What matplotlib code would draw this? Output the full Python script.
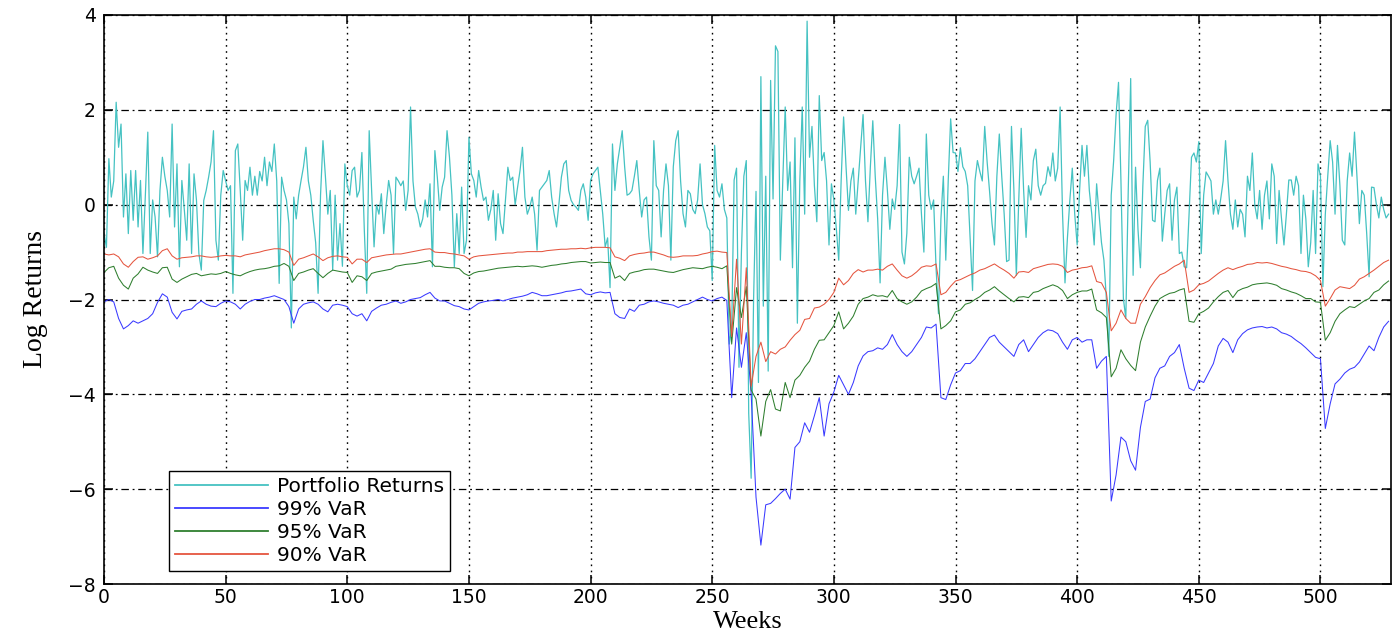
import numpy as np
import matplotlib
matplotlib.use("Agg")
import matplotlib.pyplot as plt

# weekly log returns of the portfolio (in %)
portfolio_returns = [
    -0.6, -0.9, 0.97, 0.16, 0.5, 2.16, 1.21, 1.7, -0.26, 0.65,
    -0.61, 0.72, -0.33, 0.72, -0.47, 0.51, -1.03, 0.2, 1.53, -1.03,
    0.1, -0.26, -1.1, 0.3, 1.0, 0.6, 0.3, -0.26, 1.7, -0.47,
    0.86, -1.31, 0.51, -0.1, -0.75, 0.86, -1.03, 0.65, 0.1, -1.03,
    -1.38, 0.09, 0.3, 0.58, 0.9, 1.56, -0.75, -1.17, 0.2, 0.72,
    0.5, 0.3, 0.4, -1.87, 1.14, 1.28, 0.3, -0.75, 0.51, 0.3,
    0.79, 0.2, 0.6, 0.2, 0.7, 0.5, 1.0, 0.4, 0.9, 0.7,
    1.28, 0.5, -1.66, 0.58, 0.3, 0.1, -0.4, -2.6, 0.16, -0.3,
    0.2, 0.51, 0.8, 1.21, 0.5, 0.2, -0.33, -0.8, -1.87, 0.2,
    1.35, 0.6, -0.2, 0.3, -1.38, 0.2, -1.17, -0.4, -1.3, 0.86,
    0.4, 0.2, 0.72, 0.79, 0.16, 0.3, 1.1, -0.54, -1.87, 1.56,
    0.3, -0.89, 0.0, -0.2, 0.23, -0.61, 0.0, 0.51, 0.2, -1.03,
    0.58, 0.5, 0.4, 0.5, -0.12, 0.3, 2.06, 0.5, -0.05, -0.2,
    -0.47, -0.3, 0.1, -0.26, 0.44, -1.31, 1.14, 0.58, -0.12, 0.37,
    0.58, 1.56, 1.0, 0.2, -1.31, -0.19, -1.03, 0.37, -1.03, -0.75,
    1.42, 0.65, 0.51, 0.16, 0.72, 0.37, 0.09, 0.16, -0.33, -0.1,
    0.3, -0.75, 0.23, -0.4, -0.61, 0.09, 0.79, 0.51, 0.58, 0.0,
    0.37, 0.72, 1.21, 0.16, -0.2, -0.05, 0.16, -0.2, -0.96, 0.3,
    0.37, 0.44, 0.51, 0.72, 0.16, -0.19, -0.47, 0.02, 0.58, 0.86,
    0.93, 0.3, 0.09, 0.0, -0.05, -0.12, 0.3, 0.44, 0.16, -0.33,
    0.51, 0.65, 0.72, 0.79, 0.3, -0.2, -0.89, -0.7, -1.75, 1.28,
    0.3, 0.86, 1.2, 1.56, 0.8, 0.2, 0.23, 0.3, 0.6, 0.93,
    0.3, -0.26, 0.1, 0.16, -0.68, -1.17, 1.35, 0.4, 0.3, -0.68,
    0.3, 0.86, 0.4, -1.17, 0.8, 1.35, 1.56, 0.5, -0.19, -0.47,
    0.3, 0.23, -0.1, -0.19, 0.1, 0.86, 0.0, -0.19, -0.47, -0.55,
    -1.6, 1.25, 0.3, 0.16, 0.44, -0.1, -0.28, -2.94, -2.62, 0.52,
    0.77, -3.43, -1.0, 0.6, 0.93, -4.4, -5.77, -2.0, 0.28, -3.75,
    2.7, -2.14, 0.6, -3.51, 2.62, 0.12, 3.35, 3.23, -1.17, 0.5,
    2.06, 0.3, 0.9, -1.33, 1.41, -2.5, 0.5, 2.06, -0.2, 3.87,
    1.0, 1.65, 0.4, -0.36, 2.3, 0.93, 1.1, 0.5, -0.85, 0.44,
    0.1, -0.5, -1.17, 0.52, 1.85, 0.8, -0.12, 0.5, 0.77, -0.2,
    0.5, 1.2, 1.9, 0.5, -0.36, 0.8, 1.77, 0.6, -0.3, -1.65,
    0.2, 1.0, 0.3, -0.52, 0.12, -0.1, 0.4, 1.69, -1.0, -1.25,
    -0.6, 1.0, 0.6, 0.44, 0.6, 0.77, -0.2, -1.0, 1.49, 0.2,
    -0.1, 0.1, -1.33, -2.3, -0.3, 0.6, -1.17, 0.5, 1.81, 1.1,
    1.09, 0.7, 1.2, 0.8, 0.7, 0.4, -0.69, -1.81, 0.5, 0.93,
    0.7, 0.5, 1.65, 0.9, 0.28, -0.4, -0.85, 0.6, 1.49, 0.6,
    -0.2, -1.2, -1.17, 1.65, 0.3, -1.49, 0.1, 1.61, 0.3, -0.69,
    0.4, 0.1, 0.93, 1.17, 0.4, 0.2, 0.4, 0.45, 0.8, 0.6,
    1.09, 0.5, 0.77, 2.06, -0.2, -1.65, -0.7, 0.1, 0.77, -0.2,
    -0.85, 0.3, 1.25, 0.6, 1.25, 0.3, -0.2, -0.85, 0.44, -0.2,
    -0.8, -1.17, -1.98, -3.2, 0.2, 0.93, 1.9, 2.58, 0.5, -1.98,
    -2.4, 0.3, 2.66, -1.49, 0.79, -0.52, -1.33, 0.4, 1.65, 1.78,
    0.9, -0.33, -0.36, 0.51, 0.77, -0.77, -0.2, 0.3, 0.44, -0.75,
    0.1, 0.37, -1.03, -1.0, -1.31, -1.33, -0.2, 1.0, 1.09, 0.9,
    1.33, -1.03, 0.2, 0.69, 0.6, 0.5, -0.2, 0.1, -0.2, 0.12,
    0.5, 1.35, 0.5, -0.2, -0.52, 0.1, -0.47, -0.1, -0.2, -0.68,
    0.6, 0.3, 1.09, 0.0, -0.3, 0.3, -0.52, 0.2, 0.5, -0.3,
    0.86, 0.6, -0.82, 0.3, -0.3, -0.85, -0.2, 0.52, 0.52, 0.2,
    0.6, 0.4, -1.03, 0.2, -0.3, -1.31, -0.8, 0.3, -1.03, 0.86,
    0.6, -1.73, -0.2, 0.6, 1.35, 0.9, -0.2, 1.25, 0.4, -0.75,
    -0.85, 0.5, 1.09, 0.6, 1.53, 0.6, -0.4, 0.3, 0.2, -0.6,
    -1.52, 0.37, 0.36, 0.0, -0.28, 0.16, -0.1, -0.28, -0.2,
]

# VaR estimates, recorded every second week
var_step = 2
var_99 = [
    -2.05, -2.0, -2.05, -2.4, -2.62, -2.55, -2.45, -2.5, -2.45, -2.4,
    -2.3, -2.06, -1.88, -1.95, -2.27, -2.41, -2.25, -2.22, -2.2, -2.1,
    -2.03, -2.1, -2.14, -2.15, -2.08, -2.03, -2.05, -2.1, -2.2, -2.1,
    -2.04, -2.0, -2.0, -1.97, -1.95, -1.92, -1.96, -2.0, -2.15, -2.5,
    -2.2, -2.1, -2.07, -2.05, -2.1, -2.2, -2.26, -2.12, -2.1, -2.12,
    -2.15, -2.3, -2.35, -2.3, -2.45, -2.25, -2.18, -2.12, -2.1, -2.06,
    -2.03, -2.08, -2.05, -2.0, -1.98, -1.96, -1.9, -1.85, -1.97, -2.03,
    -2.03, -2.08, -2.13, -2.15, -2.2, -2.22, -2.15, -2.08, -2.05, -2.03,
    -2.02, -2.0, -2.03, -2.0, -1.97, -1.95, -1.93, -1.9, -1.85, -1.88,
    -1.92, -1.92, -1.9, -1.88, -1.86, -1.83, -1.82, -1.8, -1.78, -1.88,
    -1.9, -1.86, -1.84, -1.86, -1.85, -2.3, -2.38, -2.4, -2.2, -2.25,
    -2.12, -2.1, -2.05, -2.03, -2.05, -2.08, -2.1, -2.12, -2.17, -2.12,
    -2.1, -2.05, -2.0, -1.95, -2.0, -2.03, -1.98, -1.95, -2.02, -4.07,
    -2.6, -3.43, -2.7, -3.99, -6.17, -7.18, -6.33, -6.3, -6.2, -6.09,
    -6.0, -6.21, -5.12, -5.0, -4.6, -4.8, -4.45, -4.07, -4.88, -4.2,
    -3.95, -3.6, -3.8, -4.0, -3.75, -3.4, -3.19, -3.1, -3.08, -3.02,
    -3.05, -2.95, -2.74, -2.95, -3.1, -3.2, -3.1, -2.95, -2.8, -2.58,
    -2.6, -2.52, -4.07, -4.11, -3.8, -3.55, -3.5, -3.35, -3.35, -3.25,
    -3.1, -2.95, -2.8, -2.75, -2.9, -3.0, -3.1, -3.2, -2.95, -2.85,
    -3.1, -2.95, -2.8, -2.7, -2.64, -2.66, -2.72, -2.9, -3.05, -2.85,
    -2.8, -2.9, -2.85, -2.85, -3.45, -3.3, -3.2, -6.25, -5.7, -4.9,
    -5.0, -5.4, -5.6, -4.7, -4.15, -4.1, -3.65, -3.45, -3.4, -3.2,
    -3.12, -2.95, -3.45, -3.87, -3.92, -3.7, -3.75, -3.55, -3.35, -2.98,
    -2.82, -2.9, -3.12, -2.85, -2.72, -2.64, -2.6, -2.58, -2.57, -2.6,
    -2.58, -2.62, -2.7, -2.73, -2.78, -2.86, -2.93, -3.02, -3.12, -3.22,
    -3.25, -4.72, -4.2, -3.78, -3.68, -3.55, -3.47, -3.43, -3.32, -3.15,
    -2.98, -3.08, -2.8, -2.58, -2.46,
]
var_95 = [
    -1.43, -1.33, -1.3, -1.55, -1.7, -1.78, -1.55, -1.46, -1.32, -1.38,
    -1.42, -1.45, -1.33, -1.32, -1.57, -1.64, -1.57, -1.52, -1.47, -1.45,
    -1.5, -1.48, -1.46, -1.47, -1.45, -1.41, -1.45, -1.48, -1.5, -1.45,
    -1.41, -1.38, -1.36, -1.35, -1.33, -1.3, -1.29, -1.24, -1.3, -1.6,
    -1.45, -1.42, -1.38, -1.35, -1.45, -1.54, -1.45, -1.38, -1.4, -1.42,
    -1.43, -1.64, -1.5, -1.52, -1.6, -1.45, -1.42, -1.4, -1.38, -1.36,
    -1.3, -1.28, -1.26, -1.25, -1.24, -1.22, -1.2, -1.18, -1.3, -1.3,
    -1.32, -1.33, -1.33, -1.35, -1.45, -1.5, -1.44, -1.41, -1.4, -1.38,
    -1.36, -1.34, -1.33, -1.32, -1.31, -1.3, -1.31, -1.3, -1.29, -1.3,
    -1.32, -1.3, -1.28, -1.27, -1.25, -1.24, -1.22, -1.21, -1.2, -1.2,
    -1.23, -1.22, -1.21, -1.22, -1.22, -1.55, -1.5, -1.6, -1.45, -1.42,
    -1.4, -1.37, -1.36, -1.36, -1.38, -1.4, -1.42, -1.43, -1.4, -1.37,
    -1.35, -1.33, -1.34, -1.35, -1.32, -1.3, -1.32, -1.35, -1.29, -2.94,
    -1.75, -2.38, -1.73, -3.91, -4.1, -4.88, -4.15, -3.9, -4.31, -4.35,
    -3.75, -4.07, -3.7, -3.6, -3.43, -3.3, -3.05, -2.86, -2.85, -2.7,
    -2.55, -2.26, -2.62, -2.5, -2.35, -2.1, -1.98, -1.95, -1.9, -1.93,
    -1.92, -1.95, -1.81, -1.98, -2.05, -2.1, -2.05, -1.95, -1.82, -1.77,
    -1.73, -1.66, -2.62, -2.55, -2.45, -2.26, -2.22, -2.1, -2.07, -2.0,
    -1.94, -1.85, -1.8, -1.73, -1.82, -1.9, -1.98, -2.05, -1.95, -1.94,
    -1.96, -1.85, -1.83, -1.77, -1.73, -1.69, -1.73, -1.81, -1.98, -1.9,
    -1.85, -1.82, -1.82, -1.78, -2.22, -2.28, -2.38, -3.63, -3.45, -3.06,
    -3.25, -3.39, -3.5, -2.9, -2.58, -2.35, -2.14, -1.98, -1.92, -1.87,
    -1.85, -1.8, -1.77, -2.46, -2.48, -2.3, -2.25, -2.18, -2.05, -1.94,
    -1.85, -1.81, -1.96, -1.82, -1.77, -1.74, -1.69, -1.67, -1.66, -1.65,
    -1.67, -1.7, -1.77, -1.8, -1.84, -1.87, -1.92, -1.98, -1.98, -2.05,
    -2.06, -2.86, -2.7, -2.46, -2.3, -2.22, -2.15, -2.17, -2.1, -2.03,
    -1.98, -1.85, -1.8, -1.69, -1.61,
]
var_90 = [
    -1.04, -1.06, -1.04, -1.1, -1.25, -1.32, -1.2, -1.11, -1.1, -1.15,
    -1.12, -1.08, -0.97, -0.93, -1.08, -1.15, -1.12, -1.11, -1.1, -1.08,
    -1.08, -1.1, -1.11, -1.1, -1.08, -1.07, -1.08, -1.08, -1.1, -1.06,
    -1.04, -1.02, -1.0, -0.97, -0.95, -0.93, -0.93, -0.95, -1.0, -1.28,
    -1.15, -1.12, -1.08, -1.04, -1.1, -1.18, -1.12, -1.09, -1.08, -1.1,
    -1.11, -1.25, -1.15, -1.15, -1.22, -1.12, -1.1, -1.08, -1.06, -1.05,
    -1.04, -1.04, -1.02, -1.0, -0.98, -0.96, -0.94, -0.93, -1.0, -1.01,
    -1.01, -1.03, -1.04, -1.06, -1.08, -1.15, -1.1, -1.08, -1.07, -1.06,
    -1.05, -1.04, -1.03, -1.02, -1.02, -1.0, -1.0, -0.99, -0.99, -0.99,
    -0.99, -0.97, -0.96, -0.95, -0.94, -0.94, -0.93, -0.93, -0.92, -0.93,
    -0.91, -0.9, -0.9, -0.9, -0.91, -1.1, -1.13, -1.18, -1.08, -1.05,
    -1.03, -1.02, -1.0, -1.0, -1.03, -1.06, -1.1, -1.11, -1.1, -1.08,
    -1.08, -1.08, -1.07, -1.04, -1.02, -0.99, -0.98, -1.0, -1.01, -2.78,
    -1.15, -2.94, -1.33, -3.83, -3.2, -2.9, -3.31, -3.1, -3.15, -3.05,
    -3.0, -2.86, -2.74, -2.65, -2.42, -2.4, -2.18, -2.16, -2.1, -2.0,
    -1.85, -1.55, -1.69, -1.6, -1.45, -1.37, -1.42, -1.38, -1.38, -1.36,
    -1.38, -1.3, -1.25, -1.38, -1.5, -1.55, -1.5, -1.42, -1.32, -1.29,
    -1.3, -1.25, -1.9, -1.85, -1.72, -1.61, -1.58, -1.53, -1.48, -1.44,
    -1.38, -1.35, -1.3, -1.25, -1.32, -1.38, -1.45, -1.55, -1.42, -1.41,
    -1.43, -1.35, -1.32, -1.29, -1.26, -1.25, -1.26, -1.3, -1.43, -1.38,
    -1.36, -1.33, -1.32, -1.29, -1.62, -1.65, -1.85, -2.66, -2.5, -2.22,
    -2.4, -2.5, -2.5, -2.1, -1.94, -1.75, -1.6, -1.48, -1.44, -1.37,
    -1.3, -1.25, -1.17, -1.85, -1.8, -1.69, -1.66, -1.61, -1.53, -1.45,
    -1.38, -1.33, -1.37, -1.33, -1.3, -1.26, -1.25, -1.22, -1.23, -1.22,
    -1.24, -1.27, -1.3, -1.32, -1.35, -1.37, -1.4, -1.41, -1.44, -1.5,
    -1.6, -2.14, -1.98, -1.8, -1.73, -1.75, -1.77, -1.7, -1.57, -1.52,
    -1.45, -1.38, -1.3, -1.22, -1.17,
]

x_ticks = [0, 50, 100, 150, 200, 250, 300, 350, 400, 450, 500]
y_ticks = [-8, -6, -4, -2, 0, 2, 4]


def main():
    weeks = np.arange(len(portfolio_returns))
    var_weeks = np.arange(len(var_99)) * var_step

    fig = plt.figure(figsize=(13.93, 6.34), dpi=100)
    ax = fig.add_axes([104 / 1393, 50 / 634, 1287 / 1393, 569 / 634])

    ax.plot(weeks, portfolio_returns, color="#45c2c2", lw=0.9, label="Portfolio Returns")
    ax.plot(var_weeks, var_99, color="#3a3aff", lw=0.75, label="99% VaR")
    ax.plot(var_weeks, var_95, color="#2f7f2f", lw=0.75, label="95% VaR")
    ax.plot(var_weeks, var_90, color="#e5553f", lw=0.75, label="90% VaR")

    ax.set_xlim(0, 529)
    ax.set_ylim(-8, 4)
    ax.set_xticks(x_ticks)
    ax.set_yticks(y_ticks)

    # dotted verticals, dash-dot horizontals
    ax.xaxis.grid(True, color="k", lw=1.0, linestyle=(0, (1.2, 3.2)))
    ax.yaxis.grid(True, color="k", lw=0.9, linestyle=(0, (6, 3, 1.5, 3)))
    ax.set_axisbelow(True)

    ax.tick_params(direction="in", length=6.5, width=1.1, top=True, right=True,
                   labelsize=13.5, pad=6)
    ax.tick_params(axis="x", pad=3)
    for sp in ax.spines.values():
        sp.set_linewidth(1.2)

    ax.set_xlabel("Weeks", family="Liberation Serif", fontsize=19)
    ax.xaxis.set_label_coords(0.5, -0.047)
    ax.set_ylabel("Log Returns", family="Liberation Serif", fontsize=20)
    ax.yaxis.set_label_coords(-0.0435, 0.5)

    leg = ax.legend(loc="lower left", bbox_to_anchor=(0.0505, 0.0228), fontsize=14.5,
                    fancybox=False, edgecolor="k", framealpha=1, handlelength=4.6,
                    borderpad=0.3, labelspacing=0.2, handletextpad=0.45,
                    borderaxespad=0)
    leg.get_frame().set_linewidth(1.0)
    for line in leg.get_lines():
        line.set_linewidth(1.3)

    fig.savefig("out.png", dpi=100)


if __name__ == "__main__":
    main()
